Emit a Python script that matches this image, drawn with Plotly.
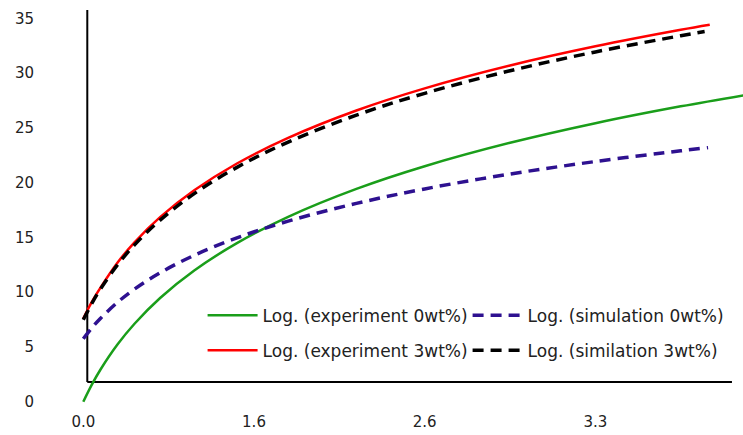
import plotly.graph_objects as go

# category positions (index along the x axis) and tick labels
tick_pos = [0, 1, 2, 3]
tick_text = ["0.0", "1.6", "2.6", "3.3"]
y_ticks = [0, 5, 10, 15, 20, 25, 30, 35]

# values
t_exp0 = [0, 0.05, 0.1, 0.2, 0.3, 0.45, 0.65, 0.9, 1.2, 1.6, 2.0, 2.5, 3.0, 3.5, 3.9]
v_exp0 = [0.0, 1.56, 2.92, 5.22, 7.12, 9.47, 11.98, 14.48, 16.88, 19.43, 21.50, 23.64, 25.43, 26.97, 28.06]

t_sim0 = [0, 0.05, 0.1, 0.2, 0.3, 0.45, 0.65, 0.9, 1.2, 1.6, 2.0, 2.5, 3.0, 3.5, 3.66]
v_sim0 = [5.75, 6.74, 7.60, 9.07, 10.28, 11.77, 13.37, 14.96, 16.49, 18.11, 19.43, 20.79, 21.93, 22.91, 23.20]

t_exp3 = [0, 0.05, 0.1, 0.2, 0.3, 0.45, 0.65, 0.9, 1.2, 1.6, 2.0, 2.5, 3.0, 3.5, 3.67]
v_exp3 = [7.60, 9.12, 10.40, 12.69, 14.55, 16.85, 19.30, 21.75, 24.09, 26.59, 28.61, 30.70, 32.45, 33.96, 34.42]

t_sim3 = [0, 0.05, 0.1, 0.2, 0.3, 0.45, 0.65, 0.9, 1.2, 1.6, 2.0, 2.5, 3.0, 3.5, 3.64]
v_sim3 = [7.48, 8.97, 10.28, 12.49, 14.32, 16.58, 19.00, 21.40, 23.71, 26.17, 28.16, 30.22, 31.94, 33.42, 33.80]

names = ["Log. (experiment 0wt%)", "Log. (simulation 0wt%)",
         "Log. (experiment 3wt%)", "Log. (similation 3wt%)"]

fig = go.Figure()
fig.add_trace(go.Scatter(x=t_exp0, y=v_exp0, mode="lines", name=names[0],
                         line=dict(color="#1a9e1a", width=2.5, shape="spline"), legend="legend"))
fig.add_trace(go.Scatter(x=t_sim0, y=v_sim0, mode="lines", name=names[1],
                         line=dict(color="#2e1190", width=3.5, dash="11px,7px", shape="spline"), legend="legend"))
fig.add_trace(go.Scatter(x=t_exp3, y=v_exp3, mode="lines", name=names[2],
                         line=dict(color="#ff0000", width=2.5, shape="spline"), legend="legend2"))
fig.add_trace(go.Scatter(x=t_sim3, y=v_sim3, mode="lines", name=names[3],
                         line=dict(color="#000000", width=3.5, dash="11px,7px", shape="spline"), legend="legend2"))

# axis lines (Excel-style crossing)
fig.add_shape(type="line", xref="x", yref="y", x0=0.0234, x1=0.0234, y0=1.80, y1=35.77,
              line=dict(color="black", width=2), layer="below")
fig.add_shape(type="line", xref="x", yref="y", x0=0.0234, x1=3.80, y0=1.80, y1=1.80,
              line=dict(color="black", width=2), layer="below")

legend_common = dict(orientation="h", font=dict(family="DejaVu Sans", size=17, color="#222"),
                     bgcolor="rgba(0,0,0,0)", entrywidth=200, entrywidthmode="pixels",
                     itemwidth=50,
                     xanchor="left", yanchor="middle", itemclick=False)
fig.update_layout(
    width=743, height=435,
    margin=dict(l=75, r=0, t=8, b=30, autoexpand=False),
    plot_bgcolor="white", paper_bgcolor="white",
    showlegend=True,
    legend=dict(x=0.191, y=0.225, **legend_common),
    legend2=dict(x=0.191, y=0.137, **legend_common),
    xaxis=dict(range=[-0.0486, 3.8647], tickvals=tick_pos, ticktext=tick_text,
               showgrid=False, zeroline=False, showline=False, ticks="",
               tickfont=dict(family="DejaVu Sans", size=15, color="#222"),
               ticklabelstandoff=6, automargin=False),
    yaxis=dict(range=[-0.3, 35.95], tickvals=y_ticks,
               showgrid=False, zeroline=False, showline=False, ticks="",
               tickfont=dict(family="DejaVu Sans", size=15, color="#222"),
               ticklabelstandoff=40, automargin=False),
)

fig.write_html("out.html")
